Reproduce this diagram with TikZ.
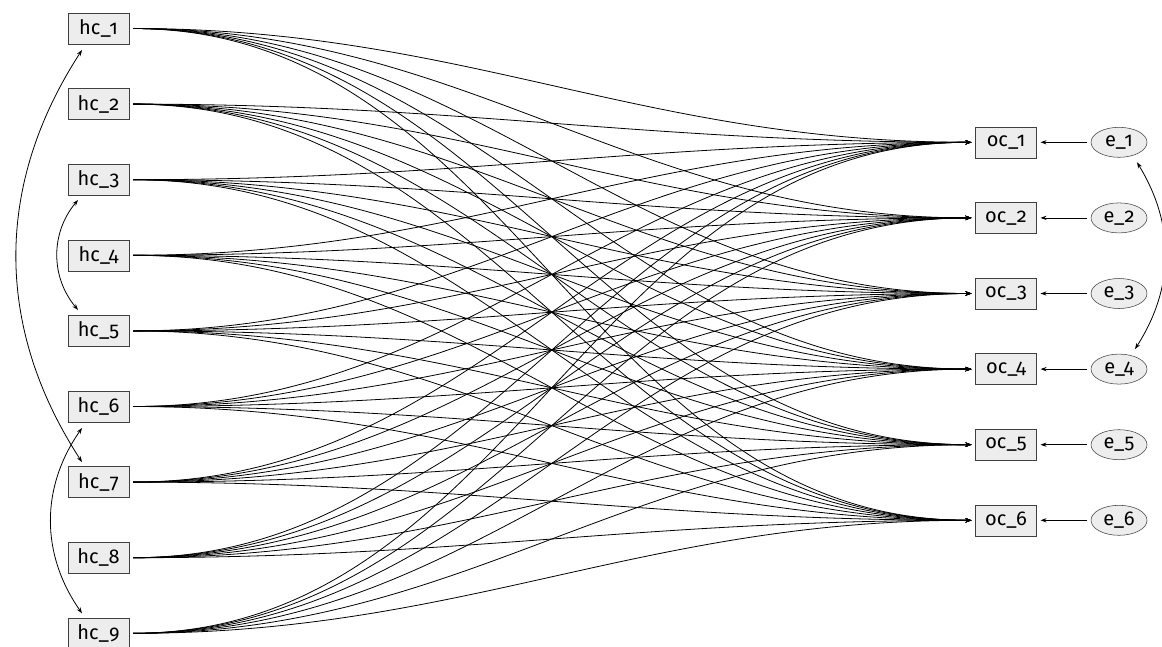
\documentclass[tikz,border=0pt]{standalone}
\usepackage{fontspec}
\setmainfont[Numbers=OldStyle]{Fira Sans}
\usetikzlibrary{arrows.meta,shapes.geometric}
\begin{document}
\begin{tikzpicture}[x=0.75pt,y=-0.75pt,
  lbl/.style={font=\fontsize{15}{17}\selectfont},
  box/.style={lbl, draw=black!75, fill=black!7, minimum width=45.75pt, minimum height=23.25pt, inner sep=0pt, outer sep=3pt},
  err/.style={lbl, ellipse, draw=black!75, fill=black!7, minimum width=42pt, minimum height=22.5pt, inner sep=0pt, outer sep=3pt},
  conn/.style={-{Stealth[length=4.5pt,width=3.2pt]}, line width=0.6pt},
  dbl/.style={{Stealth[length=4.5pt,width=3.2pt]}-{Stealth[length=4.5pt,width=3.2pt]}, line width=0.6pt}]
\useasboundingbox (0,0) rectangle (1162,646);
\foreach \i in {1,...,9}
  \node[box] (hc\i) at (98.5, {28.5+(\i-1)*75.6}) {hc\_\i};
\foreach \j in {1,...,6} {
  \node[box] (oc\j) at (1006, {142.3+(\j-1)*75.6}) {oc\_\j};
  \node[err] (e\j) at (1119, {142.3+(\j-1)*75.6}) {e\_\j};
  \draw[conn] (e\j) -- (oc\j);
}
\foreach \i in {1,...,9}
  \foreach \j in {1,...,6}
    \draw[conn] (hc\i.east) to[out=0,in=180] (oc\j.west);
\draw[dbl] ([shift={(-16.5,21.5)}]hc1.center) to[bend right=33] ([shift={(-16.5,-20)}]hc7.center);
\draw[dbl] ([shift={(-20.5,20.3)}]hc3.center) to[bend right=40] ([shift={(-20.5,-21)}]hc5.center);
\draw[dbl] ([shift={(-16.5,21.5)}]hc6.center) to[bend right=35] ([shift={(-16.5,-20)}]hc9.center);
\draw[dbl] ([shift={(18,20)}]e1.center) to[bend left=32] ([shift={(16,-20)}]e4.center);
\end{tikzpicture}
\end{document}
